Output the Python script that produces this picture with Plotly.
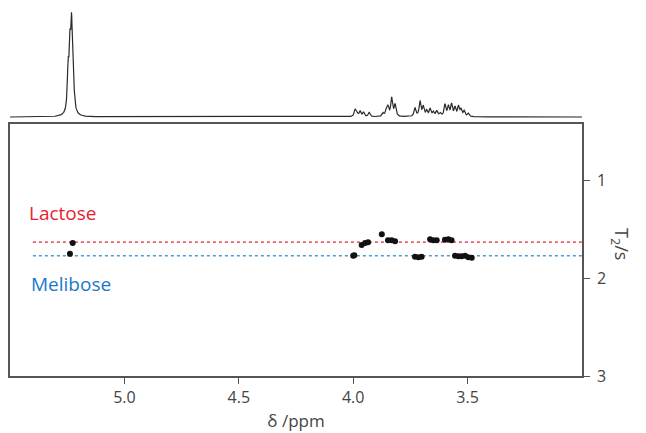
import plotly.graph_objects as go
import numpy as np

# ---- data ----
# 1D spectrum peaks: position (ppm), relative height, half width (ppm)
peak_ppm = [5.246, 5.238, 5.231, 5.224,
            3.992, 3.985, 3.970, 3.955, 3.930, 3.870, 3.855, 3.848, 3.832, 3.817,
            3.730, 3.708, 3.694, 3.679, 3.664, 3.650, 3.635, 3.620,
            3.599, 3.584, 3.570, 3.555, 3.540, 3.529, 3.515, 3.497]
peak_height = [0.38, 0.52, 0.72, 0.35,
               0.06, 0.04, 0.05, 0.04, 0.04, 0.03, 0.06, 0.08, 0.17, 0.11,
               0.08, 0.14, 0.09, 0.05, 0.07, 0.04, 0.05, 0.03,
               0.11, 0.09, 0.11, 0.08, 0.09, 0.06, 0.05, 0.03]
peak_width = [0.0042] * 4 + [0.0045] * 26

# T2 points: lactose and melibose
lac_ppm = [5.226, 3.963, 3.948, 3.935, 3.875, 3.848, 3.832, 3.817,
           3.664, 3.650, 3.635, 3.599, 3.584, 3.570]
lac_t2 = [1.64, 1.66, 1.64, 1.63, 1.55, 1.61, 1.61, 1.62,
          1.60, 1.61, 1.61, 1.605, 1.60, 1.61]
mel_ppm = [5.238, 4.000, 3.995, 3.730, 3.715, 3.701,
           3.555, 3.540, 3.526, 3.511, 3.497, 3.482]
mel_t2 = [1.75, 1.77, 1.765, 1.78, 1.785, 1.78,
          1.77, 1.775, 1.775, 1.77, 1.785, 1.79]

lac_line_t2 = 1.63
mel_line_t2 = 1.77
x_ticks = [5.0, 4.5, 4.0, 3.5]
y_ticks = [1, 2, 3]

# ---- spectrum trace built from peak list ----
xs = np.linspace(5.5, 3.0, 4000)
spec = np.zeros_like(xs)
for p, h, w in zip(peak_ppm, peak_height, peak_width):
    spec += h * w**2 / ((xs - p)**2 + w**2)

fig = go.Figure()
fig.add_trace(go.Scatter(x=xs, y=spec, mode="lines", line=dict(color="#2a2a2a", width=1.2),
                         xaxis="x2", yaxis="y2", hoverinfo="skip", showlegend=False))

fig.add_trace(go.Scatter(x=[5.40, 3.0], y=[lac_line_t2]*2, mode="lines",
                         line=dict(color="#e8626a", width=1.6, dash="dot"), showlegend=False))
fig.add_trace(go.Scatter(x=[5.40, 3.0], y=[mel_line_t2]*2, mode="lines",
                         line=dict(color="#4a9ad6", width=1.6, dash="dot"), showlegend=False))

fig.add_trace(go.Scatter(x=lac_ppm, y=lac_t2, mode="markers",
                         marker=dict(color="#111111", size=6), showlegend=False))
fig.add_trace(go.Scatter(x=mel_ppm, y=mel_t2, mode="markers",
                         marker=dict(color="#111111", size=6), showlegend=False))

font = "Open Sans, Liberation Sans, sans-serif"
fig.update_layout(
    width=638, height=425,
    margin=dict(l=2, r=64, t=0, b=57),
    paper_bgcolor="white", plot_bgcolor="white",
    font=dict(family=font, color="#444444", size=16),
    xaxis=dict(domain=[0, 1], range=[5.5, 3.0], tickvals=x_ticks,
               ticktext=[f"{v:.1f}" for v in x_ticks],
               showline=True, mirror=True, linecolor="#555555", linewidth=1.5,
               ticks="outside", ticklen=6, tickcolor="#555555", showgrid=False, zeroline=False,
               title=dict(text="δ /ppm", standoff=8, font=dict(size=17))),
    yaxis=dict(domain=[0, 0.685], range=[3, 0.42], side="right", tickvals=y_ticks,
               showline=True, mirror=True, linecolor="#555555", linewidth=1.5,
               ticks="outside", ticklen=6, tickcolor="#555555", showgrid=False, zeroline=False,
               ticklabelstandoff=4),
    xaxis2=dict(domain=[0, 1], range=[5.5, 3.0], anchor="y2", visible=False),
    yaxis2=dict(domain=[0.695, 1.0], range=[-0.03, 1.02], anchor="x2", visible=False),
    annotations=[
        dict(text="Lactose", x=5.425, y=1.333, xref="x", yref="y", xanchor="left",
             showarrow=False, font=dict(color="#e8212f", size=19, family=font)),
        dict(text="Melibose", x=5.418, y=2.056, xref="x", yref="y", xanchor="left",
             showarrow=False, font=dict(color="#1a78c8", size=19, family=font)),
        dict(text="T<sub>2</sub>/s", x=1.0, xshift=54, y=0.36, xref="paper", yref="paper",
             textangle=90, showarrow=False, font=dict(size=18, color="#444444", family=font)),
    ],
)

fig.write_html("out.html")
